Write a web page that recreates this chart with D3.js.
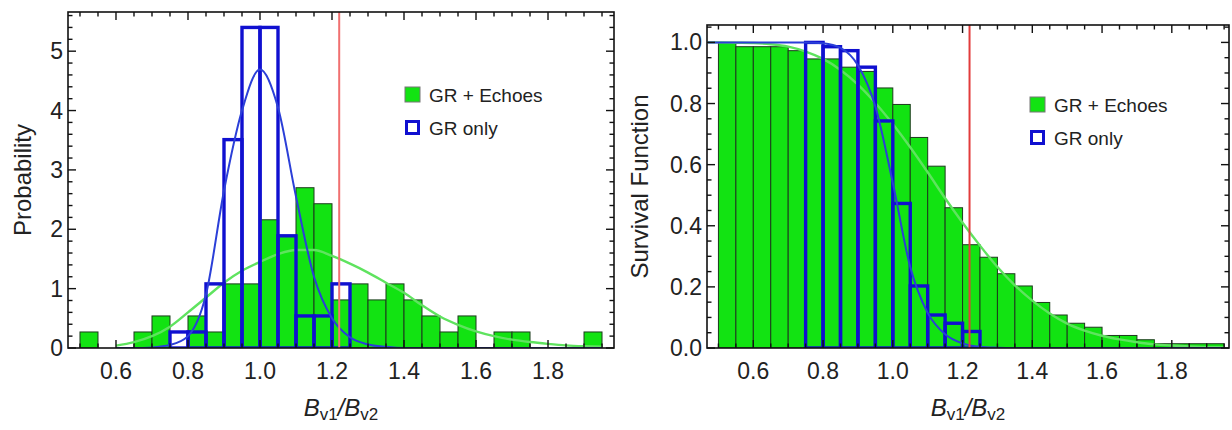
<!DOCTYPE html>
<html>
<head>
<meta charset="utf-8">
<script src="https://cdn.jsdelivr.net/npm/d3@7"></script>
<style>
  html, body { margin: 0; padding: 0; background: #fff; }
  svg { display: block; font-family: "Liberation Sans", Arial, Helvetica, sans-serif; }
</style>
</head>
<body>
<svg id="chart" width="1232" height="430"></svg>
<script>
// ---- data -----------------------------------------------------------
// left edges of the 0.05-wide histogram bins
const binStarts = [0.50, 0.55, 0.60, 0.65, 0.70, 0.75, 0.80, 0.85, 0.90, 0.95,
                   1.00, 1.05, 1.10, 1.15, 1.20, 1.25, 1.30, 1.35, 1.40, 1.45,
                   1.50, 1.55, 1.60, 1.65, 1.70, 1.75, 1.80, 1.85, 1.90];
const binWidth = 0.05;

// GR + Echoes: probability density per bin
const echoesDensity = [0.27, 0, 0, 0.27, 0.54, 0, 0.54, 0.27, 1.08, 1.08,
                       2.16, 1.89, 2.70, 2.43, 0.81, 1.08, 0.81, 1.08, 0.81, 0.54,
                       0.27, 0.54, 0, 0.27, 0.27, 0, 0, 0, 0.27];
// GR + Echoes: survival function per bin
const echoesSurvival = [1.000, 0.986, 0.986, 0.986, 0.973, 0.946, 0.946, 0.919, 0.905, 0.851,
                        0.797, 0.689, 0.595, 0.459, 0.338, 0.297, 0.243, 0.203, 0.149, 0.108,
                        0.081, 0.068, 0.041, 0.041, 0.027, 0.014, 0.014, 0.014, 0.014];

// GR only bins
const grBinStarts = [0.75, 0.80, 0.85, 0.90, 0.95, 1.00, 1.05, 1.10, 1.15, 1.20];
const grDensity   = [0.27, 0.27, 1.08, 3.51, 5.40, 5.40, 1.89, 0.54, 0.54, 1.08];
const grSurvival  = [1.000, 0.986, 0.973, 0.919, 0.743, 0.473, 0.203, 0.108, 0.081, 0.054];

// fitted density curves (left panel)
const densX = [0.60, 0.65, 0.70, 0.75, 0.80, 0.85, 0.90, 0.95, 1.00, 1.05,
               1.10, 1.15, 1.20, 1.25, 1.30, 1.35, 1.40, 1.45, 1.50, 1.55,
               1.60, 1.65, 1.70, 1.75, 1.80, 1.85, 1.90, 1.95];
const echoesDensFit = [0.04, 0.10, 0.20, 0.36, 0.60, 0.85, 1.10, 1.30, 1.45, 1.58,
                       1.65, 1.65, 1.55, 1.42, 1.27, 1.10, 0.93, 0.72, 0.53, 0.39,
                       0.28, 0.20, 0.14, 0.10, 0.07, 0.045, 0.03, 0.02];
const grDensFit = [0, 0, 0.01, 0.05, 0.20, 0.90, 2.65, 4.00, 4.69, 4.05,
                   2.55, 1.20, 0.50, 0.18, 0.06, 0.02, 0, 0, 0, 0,
                   0, 0, 0, 0, 0, 0, 0, 0];

// fitted survival curves (right panel)
const survX = [0.47, 0.50, 0.55, 0.60, 0.65, 0.70, 0.75, 0.80, 0.85, 0.90,
               0.95, 1.00, 1.05, 1.10, 1.15, 1.20, 1.25, 1.30, 1.35, 1.40,
               1.45, 1.50, 1.55, 1.60, 1.65, 1.70, 1.75, 1.80, 1.85, 1.90, 1.95];
const echoesSurvFit = [1.000, 1.000, 0.999, 0.998, 0.994, 0.986, 0.970, 0.946, 0.910, 0.862,
                       0.802, 0.733, 0.657, 0.575, 0.490, 0.410, 0.335, 0.265, 0.205, 0.155,
                       0.113, 0.080, 0.057, 0.040, 0.028, 0.019, 0.012, 0.008, 0.005, 0.003, 0.002];
const grSurvFit = [1, 1, 1, 1, 1, 1, 1.000, 0.997, 0.982, 0.925,
                   0.790, 0.540, 0.265, 0.115, 0.045, 0.015, 0.004, 0.001, 0, 0,
                   0, 0, 0, 0, 0, 0, 0, 0, 0, 0, 0];

// observed ratio marker
const observedRatio = 1.22;

// axes
const xTicks = [0.6, 0.8, 1.0, 1.2, 1.4, 1.6, 1.8];
const xTickLabels = ["0.6", "0.8", "1.0", "1.2", "1.4", "1.6", "1.8"];
const probTicks = [0, 1, 2, 3, 4, 5];
const probTickLabels = ["0", "1", "2", "3", "4", "5"];
const survTicks = [0, 0.2, 0.4, 0.6, 0.8, 1.0];
const survTickLabels = ["0.0", "0.2", "0.4", "0.6", "0.8", "1.0"];
const legendLabels = ["GR + Echoes", "GR only"];

// ---- styling ----------------------------------------------------------
const GREEN = "#12e312";
const GREEN_LINE = "#5fe35f";
const BLUE = "#1010d0";
const BLUE_LINE = "#2b3fd8";
const TEXT = "#222";

const svg = d3.select("#chart");

const panels = [
  {
    id: "pdf",
    box: { left: 68, right: 614, top: 12, bottom: 348 },
    xDomain: [0.4667, 1.9833],
    yDomain: [0, 5.66],
    echoes: echoesDensity, gr: grDensity,
    fitX: densX, echoesFit: echoesDensFit, grFit: grDensFit,
    yTicks: probTicks, yTickLabels: probTickLabels, yMinorStep: 0.2,
    yLabel: "Probability", yLabelX: 31,
    legend: { x: 405, y: 87 },
    redColor: "#f07070"
  },
  {
    id: "sf",
    box: { left: 707, right: 1229, top: 25, bottom: 348 },
    xDomain: [0.4672, 1.964],
    yDomain: [0, 1.057],
    echoes: echoesSurvival, gr: grSurvival,
    fitX: survX, echoesFit: echoesSurvFit, grFit: grSurvFit,
    yTicks: survTicks, yTickLabels: survTickLabels, yMinorStep: 0.05,
    yLabel: "Survival Function", yLabelX: 648,
    legend: { x: 1030, y: 97 },
    redColor: "#e23c3c"
  }
];

panels.forEach(p => {
  const b = p.box;
  const x = d3.scaleLinear().domain(p.xDomain).range([b.left, b.right]);
  const y = d3.scaleLinear().domain(p.yDomain).range([b.bottom, b.top]);
  const g = svg.append("g").attr("class", "panel-" + p.id);

  const clipId = "clip-" + p.id;
  svg.append("defs").append("clipPath").attr("id", clipId)
    .append("rect")
    .attr("x", b.left).attr("y", b.top)
    .attr("width", b.right - b.left).attr("height", b.bottom - b.top);
  const plot = g.append("g").attr("clip-path", `url(#${clipId})`);

  // GR + Echoes bars
  plot.append("g").selectAll("rect")
    .data(binStarts.map((s, i) => ({ s, v: p.echoes[i] })).filter(d => d.v > 0))
    .join("rect")
    .attr("x", d => x(d.s))
    .attr("y", d => y(d.v))
    .attr("width", d => x(d.s + binWidth) - x(d.s))
    .attr("height", d => y(0) - y(d.v))
    .attr("fill", GREEN)
    .attr("stroke", "#1d3a1d")
    .attr("stroke-width", 1);

  const line = d3.line()
    .x((d, i) => x(p.fitX[i]))
    .y(d => y(d))
    .curve(d3.curveMonotoneX);

  // GR + Echoes fit
  plot.append("path")
    .attr("d", line(p.echoesFit))
    .attr("fill", "none")
    .attr("stroke", GREEN_LINE)
    .attr("stroke-width", 2.4);

  // GR only bars (outlined)
  plot.append("g").selectAll("rect")
    .data(grBinStarts.map((s, i) => ({ s, v: p.gr[i] })))
    .join("rect")
    .attr("x", d => x(d.s))
    .attr("y", d => y(d.v))
    .attr("width", d => x(d.s + binWidth) - x(d.s))
    .attr("height", d => y(0) - y(d.v))
    .attr("fill", "none")
    .attr("stroke", BLUE)
    .attr("stroke-width", 3.4);

  // GR only fit
  plot.append("path")
    .attr("d", line(p.grFit))
    .attr("fill", "none")
    .attr("stroke", BLUE_LINE)
    .attr("stroke-width", 2);

  // observed value
  plot.append("line")
    .attr("x1", x(observedRatio)).attr("x2", x(observedRatio))
    .attr("y1", b.top).attr("y2", b.bottom)
    .attr("stroke", p.redColor)
    .attr("stroke-width", 2);

  // frame
  g.append("rect")
    .attr("x", b.left).attr("y", b.top)
    .attr("width", b.right - b.left).attr("height", b.bottom - b.top)
    .attr("fill", "none")
    .attr("stroke", "#111")
    .attr("stroke-width", 1.6);

  // ticks on all four sides, pointing inward
  const xMinor = d3.range(0.5, 1.96, 0.05).filter(v => !xTicks.some(t => Math.abs(t - v) < 1e-6));
  const yMinor = d3.range(0, p.yDomain[1], p.yMinorStep).filter(v => !p.yTicks.some(t => Math.abs(t - v) < 1e-6));
  const tickG = g.append("g").attr("stroke", "#111").attr("stroke-width", 1.4);
  const hTicks = xTicks.map(v => ({ v, len: 8 })).concat(xMinor.map(v => ({ v, len: 4.5 })));
  const vTicks = p.yTicks.map(v => ({ v, len: 8 })).concat(yMinor.map(v => ({ v, len: 4.5 })));
  hTicks.forEach(t => {
    tickG.append("line").attr("x1", x(t.v)).attr("x2", x(t.v)).attr("y1", b.bottom).attr("y2", b.bottom - t.len);
    tickG.append("line").attr("x1", x(t.v)).attr("x2", x(t.v)).attr("y1", b.top).attr("y2", b.top + t.len);
  });
  vTicks.forEach(t => {
    tickG.append("line").attr("y1", y(t.v)).attr("y2", y(t.v)).attr("x1", b.left).attr("x2", b.left + t.len);
    tickG.append("line").attr("y1", y(t.v)).attr("y2", y(t.v)).attr("x1", b.right).attr("x2", b.right - t.len);
  });

  // tick labels
  g.append("g").selectAll("text")
    .data(xTicks)
    .join("text")
    .attr("x", d => x(d))
    .attr("y", b.bottom + 31)
    .attr("text-anchor", "middle")
    .attr("font-size", 23)
    .attr("fill", TEXT)
    .text((d, i) => xTickLabels[i]);

  g.append("g").selectAll("text")
    .data(p.yTicks)
    .join("text")
    .attr("x", b.left - 5)
    .attr("y", d => y(d) + 8)
    .attr("text-anchor", "end")
    .attr("font-size", 23)
    .attr("fill", TEXT)
    .text((d, i) => p.yTickLabels[i]);

  // axis labels
  const cy = (b.top + b.bottom) / 2;
  g.append("text")
    .attr("transform", `translate(${p.yLabelX},${cy}) rotate(-90)`)
    .attr("text-anchor", "middle")
    .attr("font-size", 24)
    .attr("fill", TEXT)
    .text(p.yLabel);

  const xl = g.append("text")
    .attr("x", (b.left + b.right) / 2)
    .attr("y", 416)
    .attr("text-anchor", "middle")
    .attr("font-size", 24)
    .attr("fill", TEXT);
  xl.append("tspan").attr("font-style", "italic").text("B");
  xl.append("tspan").attr("font-size", 17).attr("dy", 4).text("v1");
  xl.append("tspan").attr("font-style", "italic").attr("dy", -4).text("/B");
  xl.append("tspan").attr("font-size", 17).attr("dy", 4).text("v2");

  // legend
  const lg = g.append("g").attr("transform", `translate(${p.legend.x},${p.legend.y})`);
  lg.append("rect").attr("x", 0).attr("y", 0).attr("width", 15).attr("height", 15)
    .attr("fill", GREEN).attr("stroke", "#777").attr("stroke-width", 1);
  lg.append("rect").attr("x", 1.5).attr("y", 34.5).attr("width", 12).attr("height", 12)
    .attr("fill", "#fff").attr("stroke", BLUE).attr("stroke-width", 3);
  lg.selectAll("text.lab")
    .data(legendLabels)
    .join("text")
    .attr("class", "lab")
    .attr("x", 24)
    .attr("y", (d, i) => 15 + i * 33)
    .attr("font-size", 19)
    .attr("fill", TEXT)
    .text(d => d);
});
</script>
</body>
</html>
